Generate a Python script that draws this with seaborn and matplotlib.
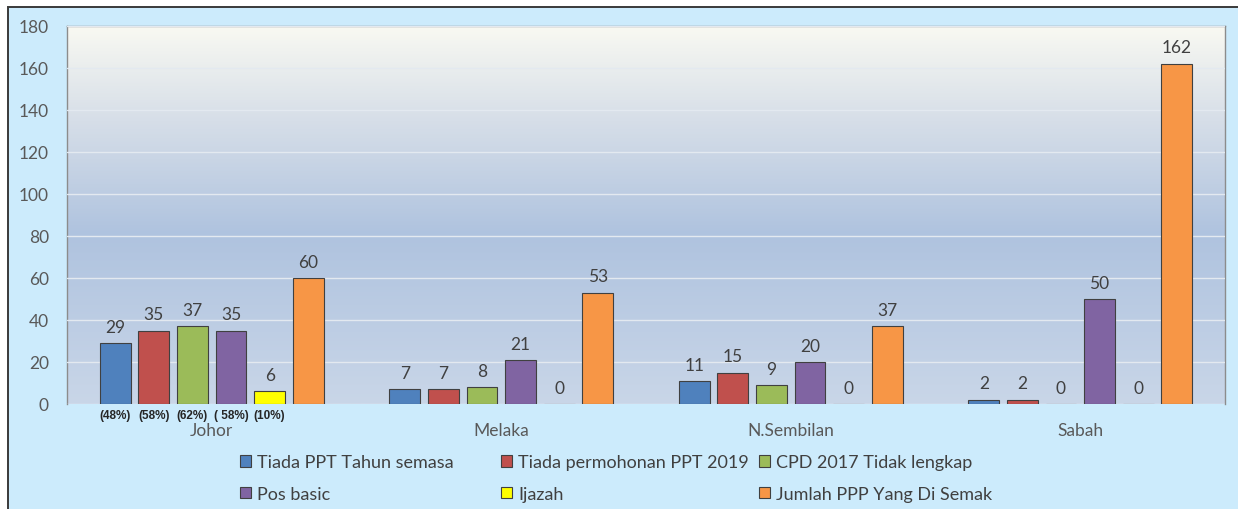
import numpy as np
import pandas as pd
import matplotlib.pyplot as plt
import matplotlib.patches as mpatches
from matplotlib.colors import LinearSegmentedColormap
from matplotlib import transforms
import seaborn as sns

# data
states = ["Johor", "Melaka", "N.Sembilan", "Sabah"]
series = ["Tiada PPT Tahun semasa", "Tiada permohonan PPT 2019",
          "CPD 2017 Tidak lengkap", "Pos basic", "Ijazah",
          "Jumlah PPP Yang Di Semak"]
tiada_ppt = [29, 7, 11, 2]
tiada_permohonan = [35, 7, 15, 2]
cpd_2017 = [37, 8, 9, 0]
pos_basic = [35, 21, 20, 50]
ijazah = [6, 0, 0, 0]
jumlah_ppp = [60, 53, 37, 162]
johor_pct = ["(48%)", "(58%)", "(62%)", "( 58%)", "(10%)"]
colors = ["#4F81BD", "#C0504D", "#9BBB59", "#8064A2", "#FFFF00", "#F79646"]

values = [tiada_ppt, tiada_permohonan, cpd_2017, pos_basic, ijazah, jumlah_ppp]
df = pd.DataFrame([(st, s, v[i]) for s, v in zip(series, values)
                   for i, st in enumerate(states)],
                  columns=["state", "series", "count"])

sns.set_style("white")
plt.rcParams["font.family"] = ["Lato", "DejaVu Sans"]

fig = plt.figure(figsize=(12.38, 5.10), dpi=100, facecolor="white")
# light blue chart area with dark frame on top / left
fig.patches.append(mpatches.Rectangle((8 / 1238, -0.2), 1.2, 1.2 - 8 / 510,
                                      transform=fig.transFigure, facecolor="#CCEBFC",
                                      edgecolor="#3A3A3A", linewidth=1.4, zorder=-5))
ax = fig.add_axes([67 / 1238, 1 - 405 / 510, (1225 - 67) / 1238, (405 - 27) / 510])

# gradient plot background
grad = LinearSegmentedColormap.from_list("bg", [(0, "#C9D6E8"), (0.45, "#AFC3DF"),
                                                 (0.75, "#D6DEE8"), (1, "#F9F9F2")])
ax.imshow(np.linspace(0, 1, 256).reshape(-1, 1), cmap=grad, origin="lower",
          extent=[-0.5, 3.5, 0, 180], aspect="auto", zorder=0)

sns.barplot(data=df, x="state", y="count", hue="series", palette=colors,
            saturation=1, width=0.8, gap=0.2, edgecolor="#404040", linewidth=0.8,
            ax=ax, zorder=3)

ax.set_xlim(-0.5, 3.5)
ax.set_ylim(0, 180)
ax.set_yticks(range(0, 181, 20))
ax.yaxis.grid(True, color="#E3E9F0", linewidth=1, zorder=1)
ax.set_axisbelow(False)
ax.set_xlabel("")
ax.set_ylabel("")
ax.tick_params(axis="y", labelsize=12.5, labelcolor="#595959", length=0, pad=13)
ax.tick_params(axis="x", labelsize=12.5, labelcolor="#595959", length=0, pad=13)
for side in ["left", "top", "right"]:
    ax.spines[side].set_color("#8C8C8C")
    ax.spines[side].set_linewidth(1)
ax.spines["bottom"].set_visible(False)

for cont in ax.containers:
    ax.bar_label(cont, padding=6, fontsize=12.5, color="#404040")

# percentage notes under Johor bars
trans = transforms.blended_transform_factory(ax.transData, ax.transAxes)
for cont, txt in zip(ax.containers[:5], johor_pct):
    p = cont[0]
    ax.text(p.get_x() + p.get_width() / 2, -0.028, txt, transform=trans,
            ha="center", va="center", fontsize=8.5, fontweight="bold",
            color="#262626", family=["Liberation Sans", "DejaVu Sans"])

handles, labels = ax.get_legend_handles_labels()
ax.get_legend().remove()
# legend: 3 fixed columns, 2 rows
col_x = [240, 501, 759]
for c, x in enumerate(col_x):
    idx = [c, c + 3]
    fig.legend([handles[i] for i in idx], [labels[i] for i in idx],
               loc="center left", bbox_to_anchor=(x / 1238, 1 - 479 / 510),
               frameon=False, fontsize=13, labelcolor="#404040",
               borderpad=0, borderaxespad=0,
               handlelength=0.6, handleheight=0.6, handletextpad=0.35,
               labelspacing=0.85)

fig.savefig("out.png", dpi=100)
